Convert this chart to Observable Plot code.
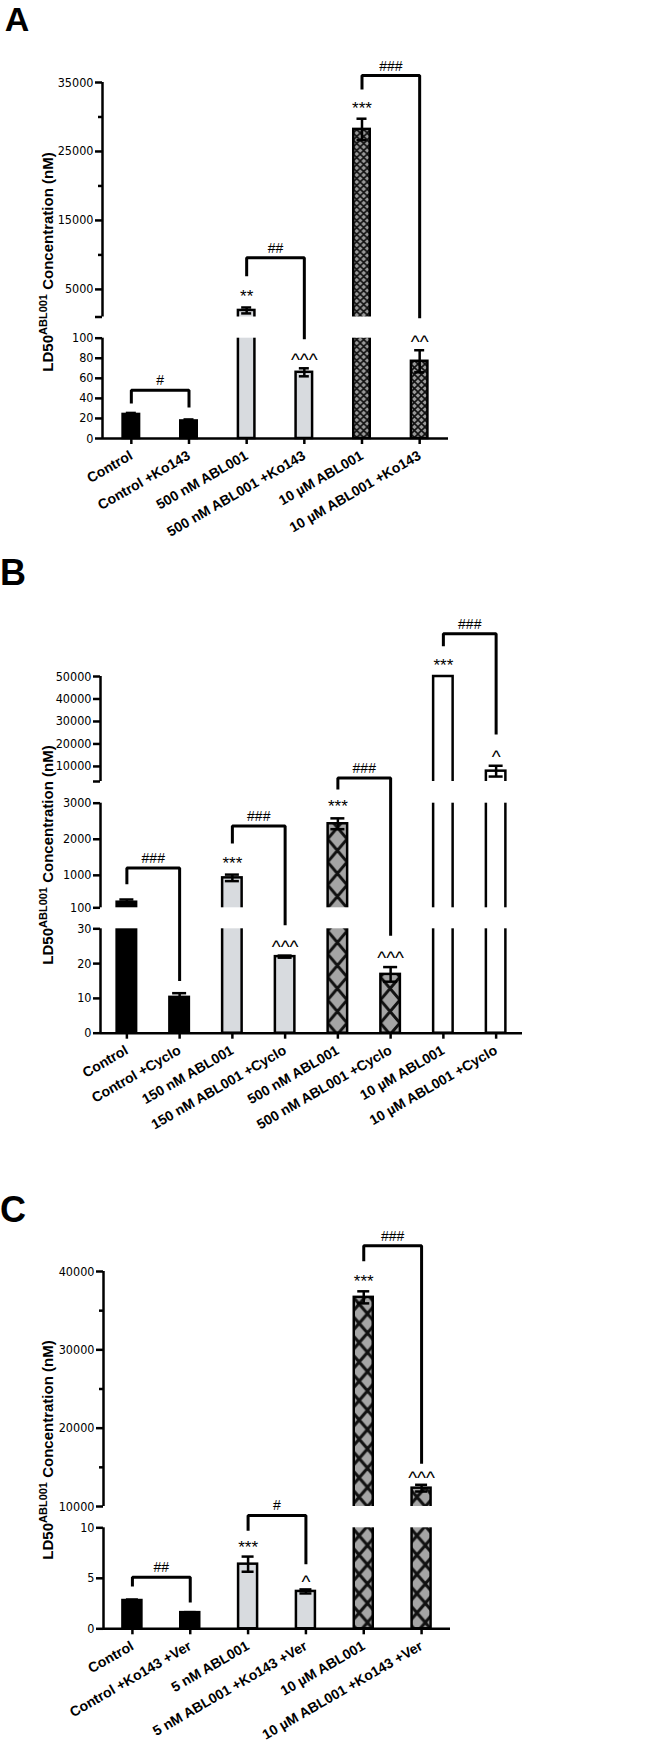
<!DOCTYPE html>
<html><head><meta charset="utf-8">
<script src="https://cdn.jsdelivr.net/npm/d3@7"></script>
<script src="https://cdn.jsdelivr.net/npm/@observablehq/plot@0.6"></script>
<style>
body{margin:0;background:#fff;}
#wrap{width:653px;}
#wrap svg{display:block;}
</style></head><body><div id="wrap"></div>
<script>
// ---------- Panel A data ----------
const categoriesA = ["Control", "Control +Ko143", "500 nM ABL001", "500 nM ABL001 +Ko143", "10 µM ABL001", "10 µM ABL001 +Ko143"];
const valuesA = [24, 17.5, 1950, 66, 28200, 77];
const errorsA = [1.5, 1.5, 430, 4, 1550, 11];
const groupsA = ["control", "control", "low", "low", "high", "high"];
const starsA = ["", "", "**", "^^^", "***", "^^"];
const bracketsA = [
  {from: 0, to: 1, label: "#", level: 48, leftEnd: 35, rightEnd: 31},
  {from: 2, to: 3, label: "##", level: 9600, leftEnd: 6900, rightEnd: 99},
  {from: 4, to: 5, label: "###", level: 36000, leftEnd: 34000, rightEnd: 950}
];
const breaksA = [0, 100, 1000, 35000];
const ticksA = [0, 20, 40, 60, 80, 100, 5000, 15000, 25000, 35000];
const endTicksA = [1000];
const minorTicksA = [10000, 20000, 30000];

// ---------- Panel B data ----------
const categoriesB = ["Control", "Control +Cyclo", "150 nM ABL001", "150 nM ABL001 +Cyclo", "500 nM ABL001", "500 nM ABL001 +Cyclo", "10 µM ABL001", "10 µM ABL001 +Cyclo"];
const valuesB = [255, 10.3, 930, 22, 2430, 16.9, 50000, 7900];
const errorsB = [75, 1.2, 90, 0.3, 150, 2.1, 0, 2400];
const groupsB = ["control", "control", "low", "low", "high", "high", "max", "max"];
const starsB = ["", "", "***", "^^^", "***", "^^^", "***", "^"];
const bracketsB = [
  {from: 0, to: 1, label: "###", level: 1200, leftEnd: 750, rightEnd: 15},
  {from: 2, to: 3, label: "###", level: 2370, leftEnd: 1880, rightEnd: 42},
  {from: 4, to: 5, label: "###", level: 4900, leftEnd: 3190, rightEnd: 28},
  {from: 6, to: 7, label: "###", level: 69000, leftEnd: 63400, rightEnd: 24200}
];
const breaksB = [0, 30, 100, 3000, 3300, 50000];
const ticksB = [0, 10, 20, 30, 100, 1000, 2000, 3000, 10000, 20000, 30000, 40000, 50000];
const endTicksB = [3300];
const minorTicksB = [];

// ---------- Panel C data ----------
const categoriesC = ["Control", "Control +Ko143 +Ver", "5 nM ABL001", "5 nM ABL001 +Ko143 +Ver", "10 µM ABL001", "10 µM ABL001 +Ko143 +Ver"];
const valuesC = [2.8, 1.6, 6.4, 3.7, 36700, 12340];
const errorsC = [0.1, 0.05, 0.75, 0.2, 770, 430];
const groupsC = ["control", "control", "low", "low", "high", "high"];
const starsC = ["", "", "***", "^", "***", "^^^"];
const bracketsC = [
  {from: 0, to: 1, label: "##", level: 5.1, leftEnd: 4.2, rightEnd: 2.6},
  {from: 2, to: 3, label: "#", level: 5780, leftEnd: 9.7, rightEnd: 6.4},
  {from: 4, to: 5, label: "###", level: 43300, leftEnd: 41300, rightEnd: 15450}
];
const breaksC = [0, 10, 10000, 40000];
const ticksC = [0, 5, 10, 10000, 20000, 30000, 40000];
const endTicksC = [];
const minorTicksC = [15000, 25000, 35000];

// ---------- drawing ----------
const W = 653;
const NARROW = "'Liberation Sans Narrow','Arial Narrow','DejaVu Sans Condensed',sans-serif";
const SANS = "'Liberation Sans',Arial,Helvetica,sans-serif";

function addPattern(defs, id, w, h, bg, sw, tx) {
  const p = defs.append("pattern").attr("id", id).attr("patternUnits", "userSpaceOnUse")
    .attr("width", w).attr("height", h).attr("patternTransform", `translate(${tx},0)`);
  p.append("rect").attr("width", w).attr("height", h).attr("fill", bg);
  p.append("path").attr("d", `M0,0L${w},${h}M${w},0L0,${h}`).attr("stroke", "#111").attr("stroke-width", sw);
}

function panel(cfg) {
  const n = cfg.categories.length;
  const rows = cfg.categories.map((c, i) => ({i, c, v: cfg.values[i], e: cfg.errors[i], g: cfg.groups[i], s: cfg.stars[i]}));
  const spacing = (cfg.xRight - cfg.xLeft) / n;
  const hw = cfg.barPx / 2 / spacing;
  const cw = cfg.capPx / spacing;
  const gaps = [], segments = [];
  for (let k = 0; k < cfg.breaks.length - 1; k++) (k % 2 ? gaps : segments).push([cfg.breaks[k], cfg.breaks[k + 1]]);
  const brPts = cfg.brackets.flatMap((b, k) => [
    {k, x: b.from, y: b.leftEnd}, {k, x: b.from, y: b.level},
    {k, x: b.to, y: b.level}, {k, x: b.to, y: b.rightEnd}]);
  const withErr = rows.filter(d => d.e > 0);
  const pid = (d) => `${cfg.letter}-pat-${d.i}`;
  const fillFor = d => cfg.fills[d.g] === "pattern" ? `url(#${pid(d)})` : cfg.fills[d.g];
  const barMarks = rows.map(r =>
    Plot.rect(rows, {filter: d => d.i === r.i, x1: d => d.i - hw, x2: d => d.i + hw, y1: 0, y2: "v",
      fill: fillFor(r), stroke: "black", strokeWidth: 2.5}));
  const svg = Plot.plot({
    width: W, height: cfg.height,
    marginLeft: cfg.xLeft, marginRight: W - cfg.xRight,
    marginTop: cfg.yRange[cfg.yRange.length - 1], marginBottom: cfg.height - cfg.yRange[0],
    style: {fontFamily: NARROW, fontSize: "12.5px", color: "black", background: "white", overflow: "visible"},
    x: {type: "linear", domain: [-0.5, n - 0.5], label: null},
    y: {type: "linear", domain: cfg.breaks, range: cfg.yRange, label: null},
    marks: [
      ...barMarks,
      Plot.ruleX(withErr, {x: "i", y1: d => d.v - d.e, y2: d => d.v + d.e, strokeWidth: 2.5}),
      Plot.ruleY(withErr, {y: d => d.v + d.e, x1: d => d.i - cw, x2: d => d.i + cw, strokeWidth: 2.5}),
      Plot.ruleY(withErr, {y: d => d.v - d.e, x1: d => d.i - cw, x2: d => d.i + cw, strokeWidth: 2.5}),
      Plot.rect(gaps, {x1: -0.5, x2: n - 0.5, y1: d => d[0], y2: d => d[1], fill: "white"}),
      Plot.ruleX(segments, {x: -0.5, y1: d => d[0], y2: d => d[1], strokeWidth: 2.5}),
      Plot.ruleY([0], {strokeWidth: 2.5}),
      Plot.axisY({ticks: cfg.ticks, tickSize: 7, tickPadding: 2, strokeWidth: 2.5, label: null, fontSize: 12.5, tickFormat: d => String(d)}),
      Plot.axisY({ticks: cfg.endTicks, tickSize: 7, strokeWidth: 2.5, label: null, tickFormat: () => ""}),
      Plot.axisY({ticks: cfg.minorTicks, tickSize: 4, strokeWidth: 2.5, label: null, tickFormat: () => ""}),
      Plot.axisX({ticks: d3.range(n), tickFormat: i => cfg.categories[i], tickRotate: -30, tickSize: 6,
        tickPadding: 10, strokeWidth: 2.5, label: null, fontSize: 14, fontWeight: "bold", fontFamily: SANS}),
      Plot.line(brPts, {x: "x", y: "y", z: "k", strokeWidth: 3, strokeLinejoin: "miter", strokeLinecap: "butt"}),
      Plot.text(cfg.brackets, {x: d => (d.from + d.to) / 2, y: "level", text: "label", dy: -5,
        lineAnchor: "bottom", fontSize: 14, fontFamily: SANS}),
      Plot.text(rows.filter(d => d.s && !d.s.includes("^")), {x: "i", y: d => d.v + d.e, text: "s", dy: -cfg.starGap,
        lineAnchor: "bottom", fontSize: 17, fontFamily: SANS}),
      Plot.text(rows.filter(d => d.s.includes("^")), {x: "i", y: d => d.v + d.e, text: "s", dy: -(cfg.starGap - 3),
        lineAnchor: "bottom", fontSize: 19, fontFamily: SANS})
    ]
  });
  const s = d3.select(svg);
  const defs = s.insert("defs", ":first-child");
  rows.filter(d => cfg.fills[d.g] === "pattern").forEach(d => {
    const left = cfg.xLeft + (d.i + 0.5) * spacing - cfg.barPx / 2;
    addPattern(defs, pid(d), cfg.pattern.w, cfg.pattern.h, cfg.pattern.bg, cfg.pattern.sw, left + cfg.pattern.offset);
  });
  s.selectAll('[aria-label="x-axis tick label"] text').attr("font-weight", "bold").attr("font-family", SANS).attr("font-size", 14);
  // y title
  const t = s.append("text").attr("transform", `translate(${cfg.titleX},${cfg.titleY}) rotate(-90)`)
    .attr("text-anchor", "middle").attr("font-weight", "bold").attr("font-size", 15)
    .attr("font-family", SANS).attr("fill", "black");
  t.append("tspan").text("LD50");
  t.append("tspan").attr("font-size", 11).attr("dy", -6).text("ABL001");
  t.append("tspan").attr("dy", 6).text(" Concentration (nM)");
  // panel letter
  s.append("text").attr("x", cfg.letterX).attr("y", cfg.letterY).attr("font-size", cfg.letterSize)
    .attr("font-weight", "bold").attr("font-family", SANS).attr("fill", "black").text(cfg.letter);
  document.getElementById("wrap").appendChild(svg);
}

panel({
  categories: categoriesA, values: valuesA, errors: errorsA, groups: groupsA, stars: starsA,
  brackets: bracketsA, breaks: breaksA, ticks: ticksA, endTicks: endTicksA, minorTicks: minorTicksA,
  height: 540, xLeft: 102, xRight: 448, yRange: [438, 337.7, 316.5, 82],
  barPx: 16.5, capPx: 5, starGap: 5,
  fills: {control: "black", low: "#d8dbdf", high: "pattern"},
  pattern: {w: 7, h: 7, bg: "#9a9a9a", sw: 1.6, offset: 0},
  titleX: 53, titleY: 262, letter: "A", letterX: 17, letterY: 31, letterSize: 34
});
panel({
  categories: categoriesB, values: valuesB, errors: errorsB, groups: groupsB, stars: starsB,
  brackets: bracketsB, breaks: breaksB, ticks: ticksB, endTicks: endTicksB, minorTicks: minorTicksB,
  height: 600, xLeft: 100, xRight: 522, yRange: [492.7, 388.3, 367.3, 262.7, 241, 136],
  barPx: 19.5, capPx: 7, starGap: 6,
  fills: {control: "black", low: "#d8dbdf", high: "pattern", max: "white"},
  pattern: {w: 19.5, h: 23, bg: "#a5a5a5", sw: 3, offset: 0},
  titleX: 53, titleY: 315, letter: "B", letterX: 13, letterY: 45, letterSize: 36
});
panel({
  categories: categoriesC, values: valuesC, errors: errorsC, groups: groupsC, stars: starsC,
  brackets: bracketsC, breaks: breaksC, ticks: ticksC, endTicks: endTicksC, minorTicks: minorTicksC,
  height: 609, xLeft: 103, xRight: 450, yRange: [488.3, 387.3, 366, 131],
  barPx: 19, capPx: 6, starGap: 4,
  fills: {control: "black", low: "#d8dbdf", high: "pattern"},
  pattern: {w: 16.6, h: 19.3, bg: "#a5a5a5", sw: 3, offset: -2.9},
  titleX: 53, titleY: 310, letter: "C", letterX: 13, letterY: 82, letterSize: 36
});
</script></body></html>
